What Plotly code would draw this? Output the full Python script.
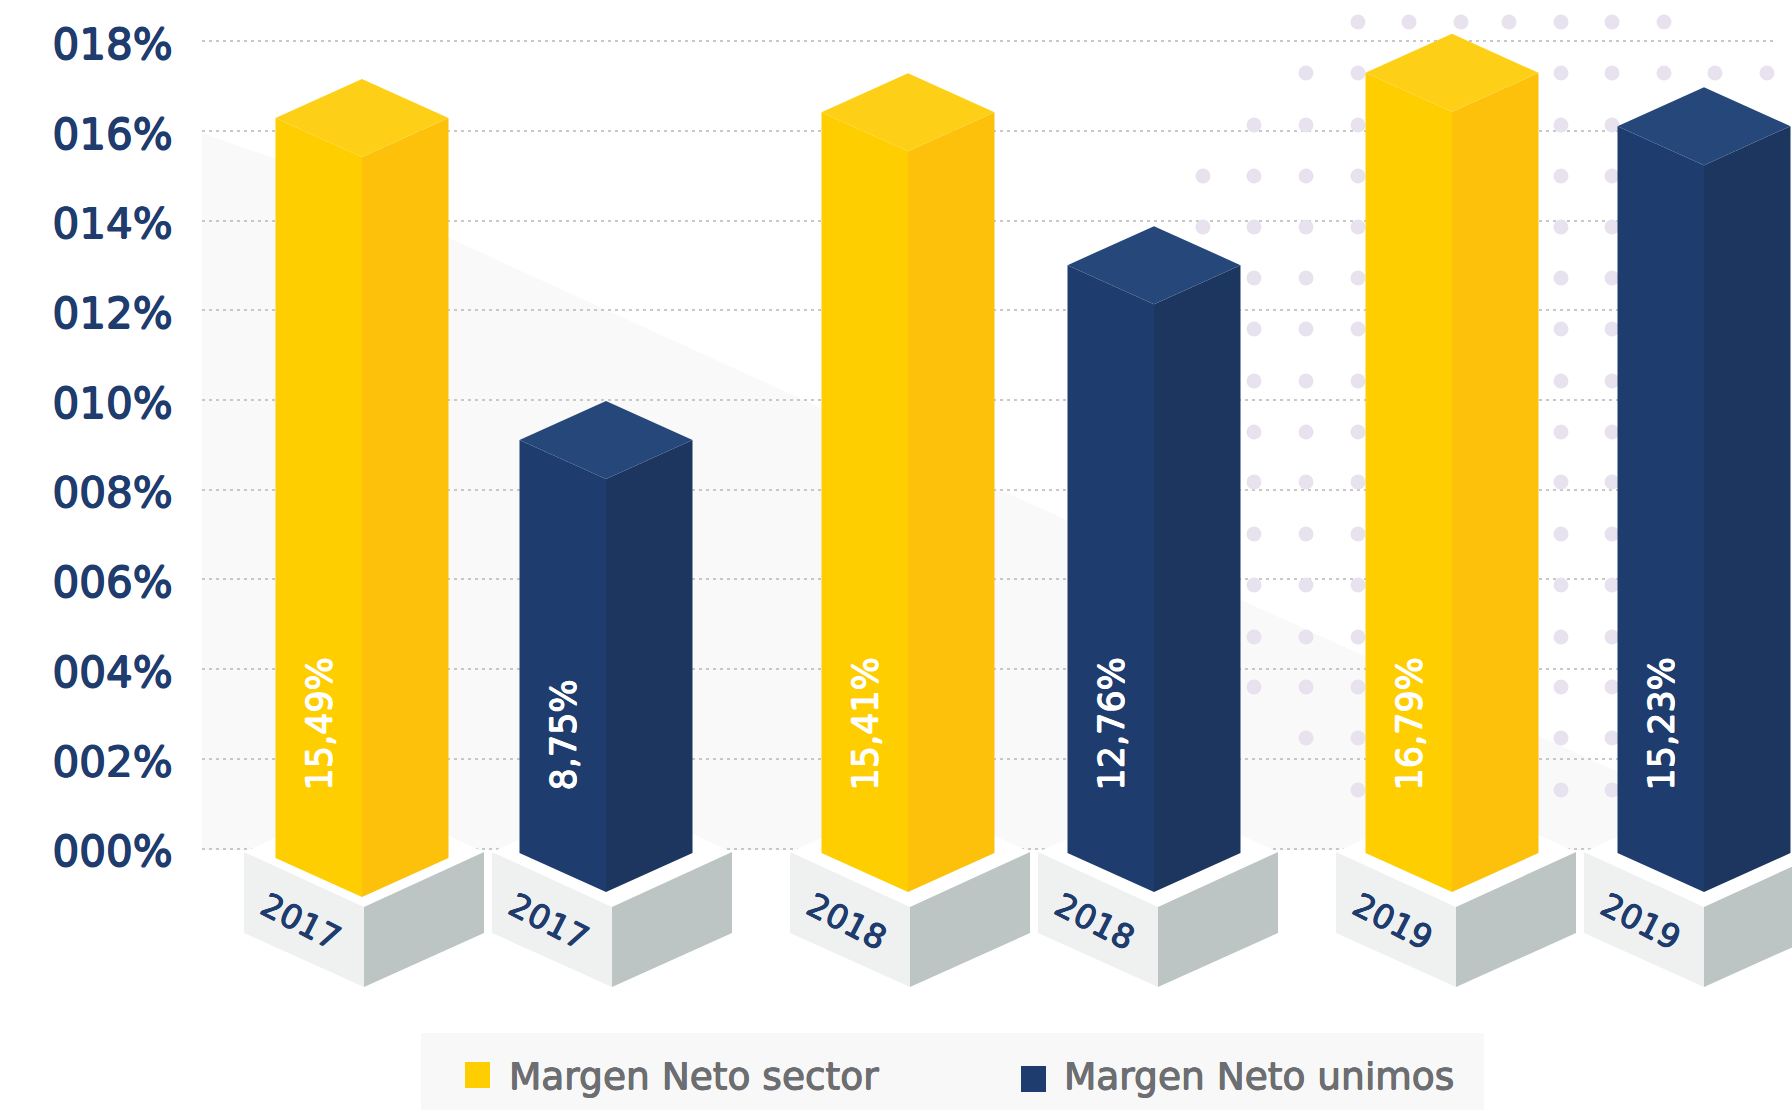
import plotly.graph_objects as go

# ---- data ----
years = ["2017", "2017", "2018", "2018", "2019", "2019"]
series = ["Margen Neto sector", "Margen Neto unimos"]
value_labels = ["15,49%", "8,75%", "15,41%", "12,76%", "16,79%", "15,23%"]
front_heights = [16.29, 9.11, 16.42, 13.01, 17.30, 16.11]
tick_values = [0, 2, 4, 6, 8, 10, 12, 14, 16, 18]
tick_labels = ["000%", "002%", "004%", "006%", "008%", "010%", "012%", "014%", "016%", "018%"]

# ---- layout scale: pixel-like x axis, y axis in percent ----
W, H = 1792, 1110
ZERO_PX, PX_PER_UNIT = 848.5, 44.84
AXIS_LEFT = 202
def Y(p):
    return (ZERO_PX - p) / PX_PER_UNIT
U = 1 / PX_PER_UNIT

YEAR_CENTERS = [362, 908, 1452]
DODGE = [244, 246, 252]
PED_FIRST, PED_PITCH, PED_DODGE = 364, 546, 248
HALF, RISE = 86.5, 39
PED_HALF = 120
FONT = "DejaVu Sans"
NAVY_TEXT = "#1F3C6E"

def thick(color, w=0.7):
    return ", ".join(f"{a}px {b}px 0 {color}" for a, b in [(w, 0), (-w, 0), (0, w), (0, -w)])

PALETTE = [
    dict(front="#FFCE00", side="#FEC10B", top="#FDD017"),
    dict(front="#1F3C6E", side="#1C365F", top="#26477A"),
]

fig = go.Figure()

def poly(xs, ys, color):
    fig.add_trace(go.Scatter(
        x=xs + xs[:1], y=ys + ys[:1], mode="lines", fill="toself",
        fillcolor=color, line=dict(width=0), hoverinfo="skip", showlegend=False))

# cut grid lines short at the right
poly([1775, W, W, 1775], [Y(0), Y(0), Y(H), Y(H)], "#FFFFFF")

# decorative dot field
COLS = [1203, 1254, 1306, 1358, 1409, 1461, 1509, 1561, 1612, 1664, 1715, 1767]
ROWS = [22, 73, 125, 176, 227, 278, 329, 381, 432, 482, 534, 585, 637, 687, 738, 790]
SPANS = [(3, 9), (2, 11), (1, 11), (0, 11), (0, 11), (1, 11), (1, 11), (1, 11),
         (1, 11), (1, 11), (1, 11), (1, 11), (1, 11), (1, 11), (2, 8), (3, 8)]
dx, dy = [], []
for r, (a, b) in zip(ROWS, SPANS):
    for c in COLS[a:b + 1]:
        dx.append(c)
        dy.append(Y(r))
fig.add_trace(go.Scatter(x=dx, y=dy, mode="markers", hoverinfo="skip", showlegend=False,
                         marker=dict(symbol="circle", size=15, color="#E7E2EE", line=dict(width=0))))

# bars with their pedestals
for i, (year, h, lab) in enumerate(zip(years, front_heights, value_labels)):
    g, s = i // 2, i % 2
    c = YEAR_CENTERS[g] + s * DODGE[g]
    pc = PED_FIRST + g * PED_PITCH + s * PED_DODGE
    col = PALETTE[s]

    # pedestal
    poly([pc - PED_HALF, pc, pc + PED_HALF, pc], [Y(852), Y(797), Y(852), Y(907)], "#FFFFFF")
    poly([pc - PED_HALF, pc, pc, pc - PED_HALF], [Y(852), Y(907), Y(987), Y(933)], "#EFF0F0")
    poly([pc, pc + PED_HALF, pc + PED_HALF, pc], [Y(907), Y(852), Y(933), Y(987)], "#BCC4C4")

    # column
    side_base = Y(858) if i == 0 else Y(853)
    mid_base = side_base - RISE * U
    l, r = c - HALF, c + HALF
    mid_top = h - RISE * U
    apex = h + RISE * U
    poly([l, c, c, l], [h, mid_top, mid_base, side_base], col["front"])
    poly([c, r, r, c], [mid_top, h, side_base, mid_base], col["side"])
    poly([l, c, r, c], [h, apex, h, mid_top], col["top"])

    fig.add_annotation(x=c - 43, y=Y(793), text=lab, textangle=-90, showarrow=False,
                       xanchor="center", yanchor="bottom",
                       font=dict(family=FONT, size=35, color="#FFFFFF", shadow=thick("#FFFFFF", 0.6)))
    fig.add_annotation(x=pc - 63, y=Y(921), text=year, textangle=27, showarrow=False,
                       xanchor="center", yanchor="middle",
                       font=dict(family=FONT, size=33, color=NAVY_TEXT, shadow=thick(NAVY_TEXT, 0.5)))

# legend
fig.add_shape(type="rect", x0=421, x1=1484, y0=Y(1033), y1=Y(H), layer="below",
              fillcolor="#F8F8F8", line_width=0)
for x0, py, name, fill, tx in [(465, 1062, series[0], "#FFCE00", 507),
                               (1021, 1066, series[1], "#1F3C6E", 1062)]:
    fig.add_shape(type="rect", x0=x0, x1=x0 + 25, y0=Y(py), y1=Y(py + 26), layer="above",
                  fillcolor=fill, line_width=0)
    fig.add_annotation(x=tx, y=Y(1076), text=name, showarrow=False, xanchor="left", yanchor="middle",
                       font=dict(family=FONT, size=37.5, color="#6D6E71", shadow=thick("#6D6E71", 0.5)))

# pale backdrop
fig.add_shape(type="path", layer="below", line_width=0, fillcolor="#FAF9FA",
              path="M {0},{1} L 276,{2} L 1640,{3} L 1640,{4} L {0},{4} Z".format(
                  AXIS_LEFT, Y(133), Y(159), Y(782), Y(850)))

fig.update_layout(
    width=W, height=H, margin=dict(l=AXIS_LEFT, r=0, t=0, b=0),
    paper_bgcolor="#FFFFFF", plot_bgcolor="#FFFFFF", showlegend=False,
    xaxis=dict(range=[AXIS_LEFT, W], visible=False, fixedrange=True),
    yaxis=dict(range=[Y(H), Y(0)], tickvals=tick_values, ticktext=tick_labels,
               showgrid=True, gridcolor="#C8C8C8", gridwidth=1.5, griddash="3px,4px",
               zeroline=False, showline=False, ticks="outside", ticklen=20,
               tickcolor="rgba(0,0,0,0)", ticklabelshift=3,
               tickfont=dict(family=FONT, size=42, color=NAVY_TEXT, shadow=thick(NAVY_TEXT, 0.8)),
               fixedrange=True),
)
fig.write_html("out.html", config=dict(displayModeBar=False),
               post_script="document.documentElement.style.margin='0';document.body.style.margin='0';document.body.style.overflow='hidden';")
